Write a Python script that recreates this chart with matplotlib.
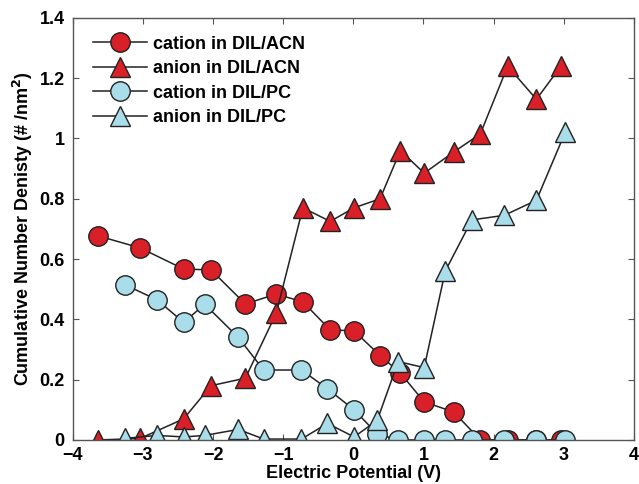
import matplotlib
matplotlib.use("Agg")
import matplotlib.pyplot as plt

# data
x_acn = [-3.64, -3.04, -2.42, -2.03, -1.54, -1.10, -0.72, -0.33, 0.01, 0.38, 0.67,
         1.01, 1.43, 1.81, 2.20, 2.61, 2.96]
cation_acn = [0.677, 0.637, 0.567, 0.564, 0.451, 0.484, 0.458, 0.365, 0.362, 0.28,
              0.222, 0.126, 0.093, 0.0, 0.0, 0.0, 0.0]
anion_acn = [0.0, 0.005, 0.07, 0.18, 0.205, 0.42, 0.77, 0.725, 0.77, 0.80, 0.96,
             0.885, 0.955, 1.015, 1.24, 1.13, 1.24]

x_pc = [-3.26, -2.80, -2.42, -2.12, -1.64, -1.28, -0.74, -0.37, 0.01, 0.34, 0.64,
        1.01, 1.31, 1.69, 2.15, 2.61, 3.02]
cation_pc = [0.515, 0.465, 0.39, 0.45, 0.34, 0.232, 0.232, 0.17, 0.10, 0.02, 0.0,
             0.0, 0.0, 0.0, 0.0, 0.0, 0.0]
anion_pc = [0.005, 0.015, 0.01, 0.015, 0.035, 0.003, 0.003, 0.055, 0.01, 0.065, 0.26,
            0.24, 0.56, 0.73, 0.745, 0.795, 1.02]

RED = "#D91F27"
BLUE = "#A8DDE9"

plt.rcParams['font.family'] = ['Liberation Sans', 'DejaVu Sans']
plt.rcParams['font.weight'] = 'bold'

fig = plt.figure(figsize=(6.39, 4.84), dpi=100)
ax = fig.add_axes([0.114, 0.091, 0.878, 0.872])

style = dict(color="#222222", lw=1.1, markersize=14, markeredgecolor="#222222",
             markeredgewidth=1.0)
ax.plot(x_acn, cation_acn, marker='o', markerfacecolor=RED,
        label="cation in DIL/ACN", **style)
ax.plot(x_acn, anion_acn, marker='^', markerfacecolor=RED,
        label="anion in DIL/ACN", **style)
ax.plot(x_pc, cation_pc, marker='o', markerfacecolor=BLUE,
        label="cation in DIL/PC", **style)
ax.plot(x_pc, anion_pc, marker='^', markerfacecolor=BLUE,
        label="anion in DIL/PC", **style)

ax.set_xlim(-4, 4)
ax.set_ylim(0, 1.4)
ax.set_xticks(range(-4, 5))
ax.set_yticks([0, 0.2, 0.4, 0.6, 0.8, 1.0, 1.2, 1.4])
ax.set_yticklabels(["0", "0.2", "0.4", "0.6", "0.8", "1", "1.2", "1.4"])
ax.tick_params(direction='in', top=True, right=True, labelsize=13,
               length=4, color="#555555")
ax.tick_params(axis='x', pad=5)
ax.tick_params(axis='y', pad=6)
for s in ax.spines.values():
    s.set_color("#555555")
    s.set_linewidth(1.0)

ax.set_xlabel("Electric Potential (V)", fontsize=13, fontweight='bold', labelpad=1)
ax.set_ylabel("Cumulative Number Denisty (# /nm$^2$)", fontsize=13,
              fontweight='bold', labelpad=3)

ax.legend(loc='upper left', bbox_to_anchor=(0.036, 0.958), frameon=False,
          fontsize=13, handlelength=3.0, labelspacing=0.42, handletextpad=0.3,
          borderaxespad=0, borderpad=0)

fig.savefig("out.png", dpi=100)
